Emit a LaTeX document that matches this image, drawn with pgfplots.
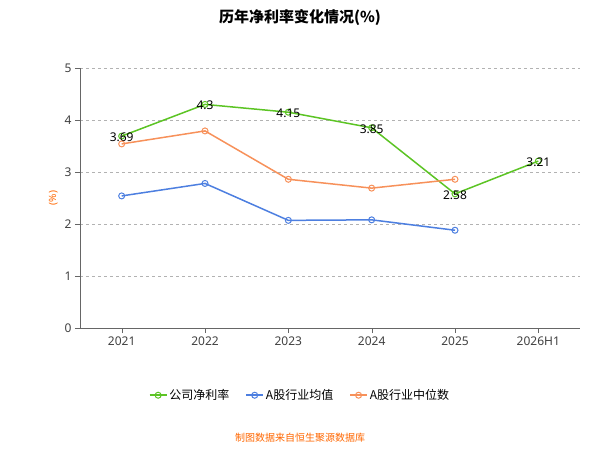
\documentclass[border=0pt]{standalone}
\usepackage{pgfplots}
\pgfplotsset{compat=1.18}
\usepackage{fontspec}
\setmainfont{Noto Sans}
\newfontfamily\cjk{Noto Sans CJK SC}
\definecolor{cg}{HTML}{5CC424}
\definecolor{cb}{HTML}{4D7FE0}
\definecolor{co}{HTML}{F7915A}
\begin{document}
\begin{tikzpicture}
\path[use as bounding box] (0pt,0pt) rectangle (600pt,450pt);
\node[font=\cjk\bfseries\fontsize{15}{18}\selectfont] at (300pt,432pt) {历年净利率变化情况(\%)};
\node[font=\cjk\fontsize{10}{12}\selectfont, text=orange!80!red] at (300pt,12pt) {制图数据来自恒生聚源数据库};
\begin{axis}[at={(80pt,122pt)},anchor=south west,scale only axis,width=500pt,height=260pt,
 xmin=-0.5,xmax=5.5,ymin=0,ymax=5,
 xtick={0,...,5},xticklabels={2021,2022,2023,2024,2025,2026H1},
 ytick={0,1,2,3,4,5},
 /pgf/number format/assume math mode=true,
 ticklabel style={font=\fontsize{12}{14}\selectfont,text=black!75},
 axis x line*=bottom, axis y line*=left,
 axis line style={black!60}, tick style={black!60},
 x axis line style={-}, y axis line style={-},
 ymajorgrids, grid style={dashed,black!30},
 xtick align=outside, ytick align=outside, major tick length=5,
 ylabel={(\%)}, ylabel style={text=orange!80!red,font=\fontsize{10}{12}\selectfont},
 legend columns=3,
 legend style={at={(0.44,-0.22)},anchor=north,draw=none,font=\cjk\fontsize{12}{14}\selectfont,
   /tikz/every even column/.append style={column sep=14pt}},
 every axis plot/.append style={line width=1.5pt,mark=o,mark size=3,mark options={fill=white,line width=1pt}},
 clip=false]
\addplot[color=cg,nodes near coords,point meta=explicit symbolic,
 every node near coord/.append style={font=\fontsize{12}{14}\selectfont,text=black,anchor=center,yshift=-1pt}]
 coordinates {(0,3.69)[3.69] (1,4.3)[4.3] (2,4.15)[4.15] (3,3.85)[3.85] (4,2.58)[2.58] (5,3.21)[3.21]};
\addplot[color=cb] coordinates {(0,2.54)(1,2.78)(2,2.07)(3,2.08)(4,1.88)};
\addplot[color=co] coordinates {(0,3.54)(1,3.79)(2,2.86)(3,2.69)(4,2.86)};
\legend{公司净利率,A股行业均值,A股行业中位数}
\end{axis}
\end{tikzpicture}
\end{document}
